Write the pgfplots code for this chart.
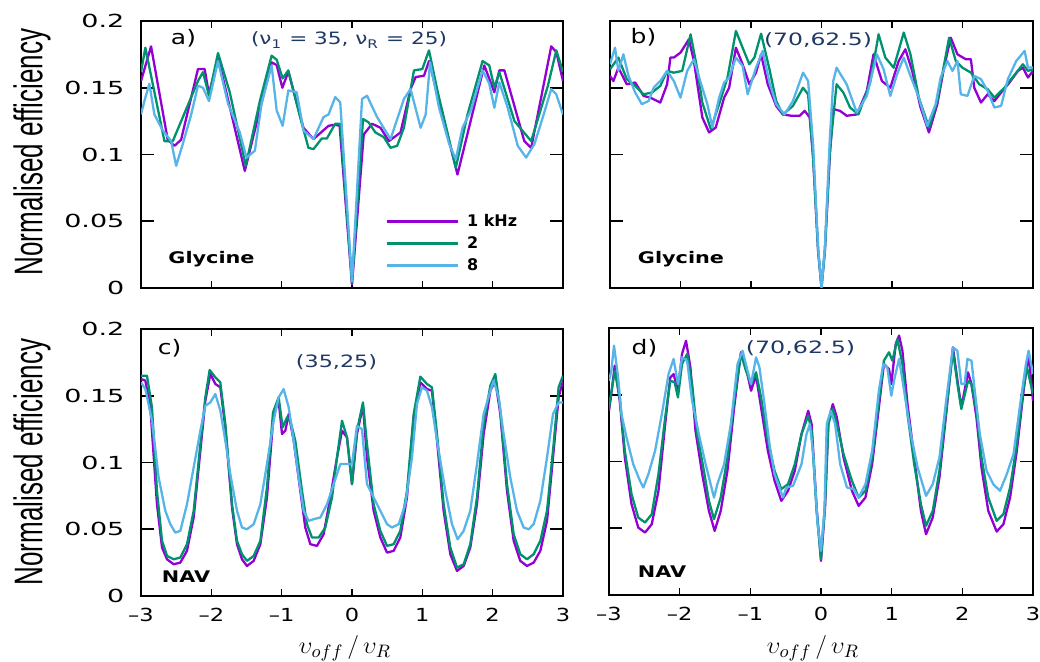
\documentclass[border=0pt]{standalone}
\usepackage{pgfplots}
\pgfplotsset{compat=1.18}
\usepackage{fontspec}
\setmainfont{DejaVu Sans}
\newfontfamily\ylabfont{Liberation Sans}
\definecolor{cP}{RGB}{148,0,211}
\definecolor{cG}{RGB}{0,146,110}
\definecolor{cB}{RGB}{86,180,233}
\definecolor{navy}{RGB}{31,56,100}
\newcommand\fs[1]{\fontsize{#1}{#1}\selectfont}
\pgfplotsset{
  panel/.style={
    scale only axis, width=211pt, height=133.5pt,
    xmin=-3, xmax=3, ymin=0, ymax=0.2,
    axis line style={line width=1pt},
    tick align=inside,
    xtick={-3,-2,-1,0,1,2,3}, ytick={0,0.05,0.1,0.15,0.2},
    xtick pos=both, ytick pos=both,
    xtick style={/pgfplots/major tick length=3.5pt, line width=0.8pt, black},
    ytick style={/pgfplots/major tick length=6.5pt, line width=0.8pt, black},
    xticklabels={}, yticklabels={},
    yticklabel style={font=\fs{9pt}, xscale=1.5, anchor=east, xshift=-2pt},
    xticklabel style={font=\fs{9pt}, xscale=1.25, yshift=-2.5pt},
    every axis plot/.append style={line width=1.15pt, line join=round},
  },
  ylabs/.style={yticklabels={0,0.05,0.1,0.15,0.2}},
  xlabs/.style={xticklabels={–3,–2,–1,0,1,2,3}},
}
\begin{document}
\begin{tikzpicture}
\path[use as bounding box] (0,0) rectangle (520pt,331pt);
% ---------------- panel a ----------------
\begin{axis}[panel, ylabs, at={(70.5pt,187pt)}, anchor=south west,
  legend cell align=left,
  legend style={at={(rel axis cs:0.578,0.2846)}, anchor=north west, draw=none, fill=none,
    inner sep=0pt, row sep=0pt, column sep=4pt, font=\bfseries\fs{8pt},
    nodes={inner sep=0pt, text height=7pt, text depth=4pt}},
  legend image code/.code={\draw[#1, line width=1.4pt] (0pt,1pt) -- (35.5pt,1pt);}]
\addplot[cP] coordinates {(-3.00,0.155)(-2.857,0.181)(-2.62,0.111)(-2.524,0.1065)(-2.43,0.111)(-2.190,0.164)(-2.095,0.164)(-2.033,0.145)(-1.905,0.173)(-1.524,0.0877)(-1.143,0.169)(-1.071,0.167)(-0.990,0.150)(-0.905,0.162)(-0.690,0.120)(-0.548,0.1115)(-0.333,0.1215)(-0.238,0.1223)(-0.176,0.1215)(0,0.0025)(0.167,0.115)(0.286,0.123)(0.405,0.120)(0.524,0.110)(0.690,0.1165)(0.833,0.149)(0.905,0.158)(1.024,0.159)(1.095,0.170)(1.500,0.085)(1.881,0.1667)(2.024,0.1466)(2.095,0.163)(2.167,0.163)(2.45,0.110)(2.548,0.105)(2.833,0.181)(2.905,0.1767)(3.0,0.155)};
\addlegendentry{1 kHz}
\addplot[cG] coordinates {(-3.0,0.1617)(-2.938,0.180)(-2.667,0.110)(-2.548,0.110)(-2.190,0.155)(-2.119,0.1617)(-2.033,0.144)(-1.905,0.176)(-1.738,0.1466)(-1.510,0.0915)(-1.310,0.140)(-1.143,0.174)(-1.071,0.171)(-0.986,0.157)(-0.905,0.163)(-0.738,0.128)(-0.619,0.105)(-0.548,0.104)(-0.429,0.112)(-0.357,0.112)(-0.238,0.123)(-0.167,0.123)(0,0.004)(0.157,0.1266)(0.238,0.124)(0.333,0.1165)(0.452,0.113)(0.548,0.105)(0.643,0.1065)(0.738,0.120)(0.881,0.163)(1.0,0.164)(1.095,0.178)(1.214,0.148)(1.476,0.090)(1.643,0.130)(1.857,0.170)(1.952,0.1667)(2.024,0.150)(2.095,0.1617)(2.310,0.125)(2.548,0.110)(2.786,0.1516)(2.905,0.178)(3.0,0.1617)};
\addlegendentry{2}
\addplot[cB] coordinates {(-3.0,0.130)(-2.952,0.140)(-2.881,0.153)(-2.810,0.130)(-2.690,0.118)(-2.571,0.110)(-2.500,0.0915)(-2.405,0.108)(-2.286,0.130)(-2.190,0.1516)(-2.119,0.150)(-2.033,0.140)(-1.905,0.170)(-1.762,0.138)(-1.595,0.1165)(-1.500,0.0977)(-1.381,0.1028)(-1.286,0.138)(-1.143,0.1667)(-1.071,0.133)(-0.986,0.1215)(-0.905,0.148)(-0.786,0.1466)(-0.690,0.118)(-0.548,0.1115)(-0.405,0.128)(-0.333,0.130)(-0.238,0.143)(-0.167,0.139)(0,0.005)(0.143,0.1416)(0.214,0.144)(0.357,0.128)(0.548,0.1115)(0.738,0.1416)(0.833,0.149)(0.976,0.120)(1.048,0.130)(1.110,0.169)(1.238,0.135)(1.381,0.108)(1.476,0.0965)(1.571,0.120)(1.690,0.133)(1.857,0.163)(1.952,0.153)(2.024,0.135)(2.095,0.154)(2.214,0.135)(2.357,0.1065)(2.476,0.0977)(2.595,0.108)(2.714,0.128)(2.833,0.149)(2.905,0.145)(3.0,0.130)};
\addlegendentry{8}
\end{axis}
% ---------------- panel b ----------------
\begin{axis}[panel, at={(305pt,187pt)}, anchor=south west, width=211.5pt]
\addplot[cP] coordinates {(-3.0,0.1589)(-2.952,0.155)(-2.881,0.165)(-2.762,0.1526)(-2.643,0.1539)(-2.524,0.1439)(-2.429,0.1426)(-2.286,0.1389)(-2.190,0.1526)(-2.143,0.1726)(-2.095,0.1726)(-2.0,0.1763)(-1.881,0.1863)(-1.810,0.170)(-1.690,0.1277)(-1.595,0.1165)(-1.5,0.1202)(-1.381,0.1426)(-1.310,0.150)(-1.214,0.180)(-1.119,0.1676)(-1.024,0.1526)(-0.929,0.1613)(-0.857,0.175)(-0.762,0.1526)(-0.643,0.1364)(-0.548,0.130)(-0.429,0.129)(-0.310,0.129)(-0.238,0.1327)(-0.167,0.1277)(-0.119,0.098)(-0.048,0.028)(0,0.0005)(0.048,0.028)(0.119,0.100)(0.167,0.134)(0.262,0.1327)(0.357,0.129)(0.5,0.130)(0.643,0.1476)(0.738,0.175)(0.857,0.155)(0.976,0.150)(1.095,0.170)(1.190,0.1788)(1.286,0.1626)(1.405,0.1352)(1.524,0.1165)(1.643,0.1377)(1.738,0.165)(1.833,0.1875)(1.929,0.175)(2.048,0.1713)(2.119,0.1713)(2.167,0.150)(2.262,0.1389)(2.357,0.1451)(2.452,0.140)(2.548,0.1464)(2.667,0.1539)(2.786,0.1626)(2.857,0.165)(2.929,0.1576)(3.0,0.1626)};
\addplot[cG] coordinates {(-3.0,0.1638)(-2.881,0.1726)(-2.762,0.1564)(-2.643,0.1514)(-2.524,0.1451)(-2.405,0.1464)(-2.286,0.1514)(-2.190,0.1626)(-2.095,0.1613)(-1.976,0.1626)(-1.857,0.190)(-1.762,0.1638)(-1.690,0.1389)(-1.571,0.119)(-1.452,0.1377)(-1.333,0.1576)(-1.214,0.1925)(-1.119,0.180)(-1.024,0.1676)(-0.952,0.1726)(-0.857,0.1905)(-0.738,0.1638)(-0.643,0.1401)(-0.548,0.130)(-0.405,0.1364)(-0.262,0.150)(-0.190,0.1451)(-0.119,0.0978)(-0.048,0.028)(0,0.0005)(0.048,0.028)(0.119,0.1027)(0.214,0.1526)(0.310,0.1464)(0.405,0.1352)(0.524,0.130)(0.690,0.1539)(0.810,0.190)(0.905,0.1726)(1.024,0.165)(1.167,0.1913)(1.262,0.175)(1.381,0.1426)(1.524,0.1202)(1.643,0.1401)(1.810,0.1875)(1.905,0.170)(2.0,0.165)(2.119,0.1613)(2.238,0.1526)(2.357,0.1489)(2.452,0.1426)(2.595,0.150)(2.690,0.1564)(2.857,0.1676)(2.929,0.1626)(3.0,0.1638)};
\addplot[cB] coordinates {(-3.0,0.1676)(-2.929,0.180)(-2.881,0.1626)(-2.810,0.175)(-2.738,0.1589)(-2.643,0.1464)(-2.548,0.1377)(-2.452,0.1401)(-2.381,0.150)(-2.286,0.1551)(-2.190,0.1626)(-2.095,0.1551)(-2.0,0.1426)(-1.905,0.1626)(-1.810,0.1713)(-1.714,0.1539)(-1.619,0.1377)(-1.548,0.1202)(-1.452,0.1426)(-1.381,0.1539)(-1.310,0.1576)(-1.214,0.1726)(-1.119,0.1663)(-1.048,0.1451)(-0.929,0.165)(-0.833,0.1776)(-0.738,0.1539)(-0.643,0.1377)(-0.524,0.130)(-0.405,0.1401)(-0.262,0.1613)(-0.190,0.1551)(-0.119,0.1077)(-0.048,0.0304)(0,0.0)(0.048,0.0304)(0.119,0.1127)(0.167,0.1551)(0.214,0.165)(0.357,0.1526)(0.5,0.1314)(0.643,0.1439)(0.786,0.175)(0.881,0.1638)(0.976,0.1439)(1.071,0.160)(1.167,0.1726)(1.262,0.1589)(1.381,0.1426)(1.5,0.1214)(1.619,0.1377)(1.690,0.1576)(1.786,0.170)(1.857,0.1626)(1.929,0.170)(1.976,0.1451)(2.071,0.1439)(2.167,0.1589)(2.262,0.1564)(2.357,0.1476)(2.452,0.1352)(2.548,0.1364)(2.643,0.1564)(2.762,0.170)(2.881,0.1776)(2.929,0.1651)(3.0,0.1651)};
\end{axis}
% ---------------- panel c ----------------
\begin{axis}[panel, ylabs, xlabs, at={(70.5pt,33pt)}, anchor=south west]
\addplot[cP] coordinates {(-3.0,0.1625)(-2.938,0.1613)(-2.867,0.1413)(-2.773,0.0688)(-2.701,0.0363)(-2.630,0.0275)(-2.536,0.0238)(-2.441,0.025)(-2.346,0.0338)(-2.251,0.0588)(-2.156,0.1088)(-2.085,0.1463)(-2.014,0.1663)(-1.943,0.1588)(-1.872,0.1563)(-1.801,0.1263)(-1.706,0.0663)(-1.635,0.0388)(-1.564,0.0275)(-1.493,0.0225)(-1.398,0.0263)(-1.303,0.0388)(-1.209,0.0738)(-1.114,0.1363)(-1.043,0.1463)(-0.995,0.1213)(-0.948,0.1238)(-0.900,0.1363)(-0.829,0.1163)(-0.735,0.0788)(-0.664,0.0513)(-0.592,0.0388)(-0.498,0.0375)(-0.403,0.0463)(-0.308,0.0738)(-0.213,0.1038)(-0.142,0.1238)(-0.071,0.1188)(0,0.0838)(0.071,0.1213)(0.156,0.1425)(0.213,0.1038)(0.308,0.0638)(0.403,0.0438)(0.498,0.0325)(0.592,0.0338)(0.687,0.0438)(0.782,0.0738)(0.877,0.1338)(0.972,0.160)(1.066,0.155)(1.137,0.1538)(1.209,0.1163)(1.303,0.0638)(1.398,0.0313)(1.493,0.0188)(1.588,0.0225)(1.682,0.0363)(1.777,0.0688)(1.872,0.1213)(1.967,0.1538)(2.038,0.1613)(2.109,0.1363)(2.204,0.0788)(2.299,0.0413)(2.393,0.0263)(2.488,0.0225)(2.583,0.025)(2.678,0.0338)(2.773,0.0563)(2.867,0.1088)(2.938,0.1488)(3.0,0.1613)};
\addplot[cG] coordinates {(-3.0,0.165)(-2.915,0.165)(-2.844,0.1413)(-2.773,0.0788)(-2.701,0.0413)(-2.630,0.030)(-2.536,0.0275)(-2.441,0.0288)(-2.346,0.0388)(-2.251,0.0638)(-2.156,0.1138)(-2.085,0.1488)(-2.024,0.1693)(-1.943,0.1638)(-1.872,0.160)(-1.801,0.1288)(-1.706,0.0688)(-1.635,0.0413)(-1.564,0.0313)(-1.493,0.0263)(-1.398,0.030)(-1.303,0.0413)(-1.209,0.0813)(-1.123,0.1375)(-1.043,0.1488)(-0.986,0.1263)(-0.924,0.1338)(-0.877,0.1313)(-0.806,0.1163)(-0.711,0.0788)(-0.640,0.0538)(-0.569,0.0438)(-0.474,0.0438)(-0.379,0.0513)(-0.284,0.0738)(-0.213,0.1038)(-0.142,0.1313)(-0.071,0.1188)(0,0.0838)(0.071,0.1238)(0.156,0.145)(0.213,0.1138)(0.308,0.0688)(0.403,0.0488)(0.498,0.0375)(0.592,0.0388)(0.687,0.0488)(0.782,0.0788)(0.877,0.1363)(0.972,0.1643)(1.066,0.1588)(1.137,0.1563)(1.209,0.1213)(1.303,0.0688)(1.398,0.0363)(1.493,0.0213)(1.588,0.0238)(1.682,0.0388)(1.777,0.0738)(1.872,0.1288)(1.967,0.1575)(2.038,0.1663)(2.109,0.1388)(2.204,0.0838)(2.299,0.0463)(2.393,0.0313)(2.488,0.0275)(2.583,0.0313)(2.678,0.0413)(2.773,0.0638)(2.867,0.1138)(2.938,0.1563)(3.0,0.165)};
\addplot[cB] coordinates {(-3.0,0.160)(-2.938,0.155)(-2.844,0.1313)(-2.749,0.0888)(-2.654,0.0638)(-2.583,0.0538)(-2.512,0.0475)(-2.441,0.0488)(-2.346,0.0688)(-2.251,0.0963)(-2.156,0.1238)(-2.085,0.1425)(-2.014,0.145)(-1.943,0.1513)(-1.872,0.1388)(-1.801,0.1163)(-1.730,0.0913)(-1.635,0.0638)(-1.564,0.0513)(-1.493,0.050)(-1.398,0.0538)(-1.303,0.0688)(-1.209,0.0988)(-1.114,0.1313)(-1.043,0.1488)(-0.972,0.155)(-0.900,0.1413)(-0.829,0.1163)(-0.758,0.0888)(-0.687,0.0638)(-0.616,0.0563)(-0.545,0.0575)(-0.450,0.0588)(-0.355,0.0688)(-0.261,0.0838)(-0.166,0.0988)(-0.095,0.0988)(0,0.0988)(0.071,0.1275)(0.142,0.125)(0.213,0.0838)(0.308,0.0738)(0.403,0.0638)(0.498,0.0538)(0.569,0.0513)(0.664,0.0538)(0.758,0.0688)(0.853,0.1038)(0.924,0.1438)(0.995,0.1563)(1.066,0.1538)(1.137,0.1413)(1.232,0.1088)(1.327,0.0788)(1.422,0.0538)(1.502,0.0425)(1.588,0.0488)(1.682,0.0638)(1.777,0.0988)(1.872,0.1363)(1.967,0.1538)(2.014,0.1613)(2.085,0.1488)(2.156,0.1213)(2.251,0.0888)(2.346,0.0638)(2.441,0.0513)(2.512,0.050)(2.583,0.0538)(2.678,0.0713)(2.773,0.1038)(2.858,0.1363)(2.938,0.145)(3.0,0.145)};
\end{axis}
% ---------------- panel d ----------------
\begin{axis}[panel, xlabs, at={(304.5pt,33.5pt)}, anchor=south west, width=212pt]
\addplot[cP] coordinates {(-3.0,0.138)(-2.967,0.1505)(-2.919,0.1718)(-2.848,0.1455)(-2.776,0.103)(-2.681,0.068)(-2.586,0.0505)(-2.490,0.0468)(-2.395,0.053)(-2.300,0.078)(-2.205,0.128)(-2.133,0.163)(-2.086,0.1655)(-2.024,0.153)(-1.967,0.1805)(-1.910,0.1905)(-1.848,0.1705)(-1.776,0.123)(-1.681,0.0905)(-1.586,0.063)(-1.505,0.048)(-1.419,0.063)(-1.324,0.093)(-1.229,0.1405)(-1.133,0.1818)(-1.062,0.1705)(-0.990,0.153)(-0.919,0.1643)(-0.848,0.1405)(-0.752,0.108)(-0.657,0.0855)(-0.562,0.0705)(-0.467,0.078)(-0.371,0.093)(-0.276,0.1205)(-0.181,0.138)(-0.133,0.128)(-0.062,0.0655)(0,0.0255)(0.057,0.0655)(0.105,0.1305)(0.167,0.143)(0.224,0.133)(0.319,0.103)(0.438,0.078)(0.533,0.0668)(0.629,0.073)(0.724,0.098)(0.819,0.1405)(0.890,0.173)(0.962,0.1693)(0.995,0.158)(1.057,0.188)(1.105,0.1943)(1.152,0.183)(1.224,0.143)(1.319,0.103)(1.414,0.063)(1.486,0.0455)(1.581,0.058)(1.676,0.088)(1.771,0.1355)(1.867,0.1855)(1.938,0.158)(1.986,0.1405)(2.081,0.1668)(2.129,0.158)(2.200,0.133)(2.271,0.0955)(2.367,0.063)(2.486,0.0475)(2.581,0.053)(2.676,0.073)(2.771,0.108)(2.867,0.153)(2.938,0.1805)(3.0,0.1455)};
\addplot[cG] coordinates {(-3.0,0.1405)(-2.919,0.168)(-2.848,0.148)(-2.776,0.108)(-2.681,0.0755)(-2.586,0.058)(-2.490,0.0543)(-2.395,0.0605)(-2.300,0.0905)(-2.205,0.133)(-2.133,0.1605)(-2.071,0.1593)(-2.024,0.148)(-1.967,0.173)(-1.895,0.1805)(-1.824,0.158)(-1.752,0.1205)(-1.657,0.093)(-1.586,0.0705)(-1.514,0.0568)(-1.419,0.073)(-1.324,0.103)(-1.229,0.1455)(-1.133,0.1805)(-1.062,0.168)(-0.990,0.158)(-0.919,0.1668)(-0.848,0.148)(-0.752,0.1155)(-0.657,0.093)(-0.562,0.0793)(-0.467,0.083)(-0.371,0.098)(-0.276,0.1205)(-0.181,0.1343)(-0.133,0.123)(-0.062,0.063)(0,0.0268)(0.057,0.068)(0.105,0.128)(0.167,0.1393)(0.224,0.128)(0.319,0.1055)(0.438,0.0855)(0.533,0.073)(0.629,0.078)(0.724,0.103)(0.819,0.1455)(0.890,0.1755)(0.962,0.1818)(1.010,0.1755)(1.081,0.1918)(1.152,0.173)(1.224,0.1355)(1.319,0.098)(1.414,0.068)(1.486,0.0518)(1.581,0.063)(1.676,0.093)(1.771,0.138)(1.867,0.183)(1.938,0.1555)(1.986,0.1393)(2.081,0.1605)(2.129,0.158)(2.200,0.138)(2.271,0.103)(2.367,0.073)(2.486,0.0555)(2.581,0.0605)(2.676,0.0805)(2.771,0.113)(2.867,0.1555)(2.914,0.1705)(3.0,0.1505)};
\addplot[cB] coordinates {(-3.0,0.1605)(-2.967,0.168)(-2.929,0.1868)(-2.871,0.163)(-2.824,0.1355)(-2.752,0.118)(-2.657,0.098)(-2.562,0.0855)(-2.514,0.0805)(-2.443,0.0905)(-2.348,0.108)(-2.252,0.1355)(-2.157,0.1655)(-2.086,0.1768)(-2.024,0.158)(-1.967,0.178)(-1.895,0.1755)(-1.824,0.1455)(-1.729,0.1205)(-1.633,0.098)(-1.562,0.083)(-1.514,0.073)(-1.467,0.083)(-1.371,0.098)(-1.276,0.128)(-1.181,0.173)(-1.110,0.183)(-1.052,0.1705)(-0.990,0.158)(-0.919,0.178)(-0.871,0.1705)(-0.800,0.143)(-0.729,0.113)(-0.657,0.0905)(-0.586,0.0805)(-0.538,0.073)(-0.490,0.0805)(-0.395,0.0818)(-0.276,0.098)(-0.205,0.1205)(-0.157,0.128)(-0.110,0.1055)(-0.048,0.053)(0,0.033)(0.048,0.063)(0.081,0.128)(0.138,0.138)(0.200,0.128)(0.271,0.098)(0.367,0.0805)(0.462,0.0793)(0.533,0.073)(0.629,0.083)(0.724,0.108)(0.819,0.153)(0.881,0.173)(0.938,0.1705)(0.995,0.1493)(1.043,0.163)(1.105,0.1768)(1.176,0.153)(1.271,0.1205)(1.367,0.0955)(1.486,0.0743)(1.581,0.083)(1.676,0.103)(1.771,0.1455)(1.867,0.1855)(1.929,0.183)(1.986,0.158)(2.033,0.158)(2.071,0.1768)(2.129,0.1755)(2.176,0.153)(2.248,0.1205)(2.343,0.093)(2.438,0.083)(2.533,0.078)(2.629,0.0905)(2.724,0.1055)(2.819,0.143)(2.900,0.173)(2.938,0.183)(3.0,0.1655)};
\end{axis}
% ---------------- texts ----------------
\node[inner sep=0pt, font=\fs{10pt}, xscale=1.25] at (91.75pt,312pt) {a)};
\node[inner sep=0pt, font=\fs{10pt}, xscale=1.25] at (321.75pt,312.5pt) {b)};
\node[inner sep=0pt, font=\fs{10pt}, xscale=1.25] at (84.75pt,157pt) {c)};
\node[inner sep=0pt, font=\fs{10pt}, xscale=1.25] at (322.25pt,157pt) {d)};
\node[inner sep=0pt, font=\fs{8.5pt}, text=navy, xscale=1.27] at (174.5pt,311pt) {(ν\textsubscript{1} = 35, ν\textsubscript{R} = 25)};
\node[inner sep=0pt, font=\fs{8.5pt}, text=navy, xscale=1.38] at (409pt,311pt) {(70,62.5)};
\node[inner sep=0pt, font=\fs{8.5pt}, text=navy, xscale=1.31] at (168.25pt,150pt) {(35,25)};
\node[inner sep=0pt, font=\fs{8.5pt}, text=navy, xscale=1.4] at (400.25pt,157pt) {(70,62.5)};
\node[inner sep=0pt, font=\bfseries\fs{8pt}, xscale=1.3] at (105.75pt,201.5pt) {Glycine};
\node[inner sep=0pt, font=\bfseries\fs{8pt}, xscale=1.3] at (340.5pt,201.5pt) {Glycine};
\node[inner sep=0pt, font=\bfseries\fs{8pt}, xscale=1.3] at (93pt,42.5pt) {NAV};
\node[inner sep=0pt, font=\bfseries\fs{8pt}, xscale=1.3] at (331pt,45pt) {NAV};
\node[inner sep=0pt, rotate=90, font=\ylabfont\fs{20pt}] at (16pt,255pt) {\scalebox{0.65}[1]{Normalised efficiency}};
\node[inner sep=0pt, rotate=90, font=\ylabfont\fs{20pt}] at (16pt,100pt) {\scalebox{0.65}[1]{Normalised efficiency}};
\node[inner sep=0pt, font=\fs{13pt}] at (172.5pt,7pt) {$\upsilon_{off}\,/\,\upsilon_R$};
\node[inner sep=0pt, font=\fs{13pt}] at (406.5pt,7pt) {$\upsilon_{off}\,/\,\upsilon_R$};
\end{tikzpicture}
\end{document}
